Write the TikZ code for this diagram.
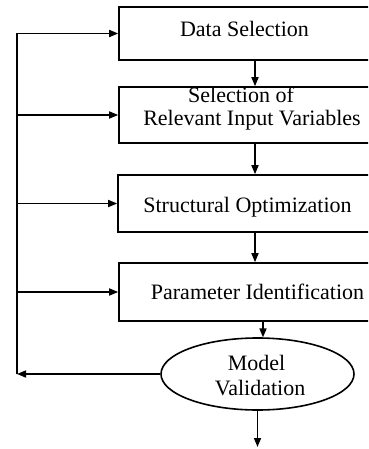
\documentclass[tikz,border=0pt]{standalone}
\usepackage{fontspec}
\setmainfont{Liberation Serif}
\usetikzlibrary{arrows.meta,shapes.geometric}
\begin{document}
\begin{tikzpicture}[x=1pt,y=-1pt,
  line width=1.6pt,
  box/.style={draw,rectangle,minimum width=300pt,inner sep=0pt},
  lbl/.style={anchor=base,inner sep=0pt,font=\fontsize{22}{26}\selectfont},
  arr/.style={-{Triangle[length=9pt,width=7pt]}}]
\useasboundingbox (0,0) rectangle (368,449);
\begin{scope}
\clip (0,0) rectangle (368,449);
\node[box,minimum height=53pt] (b1) at (269,33.5) {};
\node[box,minimum height=56pt] (b2) at (269,115) {};
\node[box,minimum height=57pt] (b3) at (268,203.5) {};
\node[box,minimum height=58pt] (b4) at (269,292) {};
\end{scope}
\node[draw,ellipse,minimum width=193pt,minimum height=72pt,inner sep=0pt] (mv) at (257.5,374) {};
\node[lbl] (t1) at (244.5,37) {Data Selection};
\node[lbl] (t2a) at (241,103) {Selection of};
\node[lbl] (t2b) at (252,126) {Relevant Input Variables};
\node[lbl] (t3) at (247.5,212) {Structural Optimization};
\node[lbl] (t4) at (257.5,299) {Parameter Identification};
\node[lbl] (t5a) at (256.5,370) {Model};
\node[lbl] (t5b) at (260,395) {Validation};
\coordinate (ax) at (255,0);
\coordinate (ax2) at (263,0);
\coordinate (fb) at (17,374);
\coordinate (out) at (257.5,447);
\draw[arr] (b1.south -| ax) -- (b2.north -| ax);
\draw[arr] (b2.south -| ax) -- (b3.north -| ax);
\draw[arr] (b3.south -| ax) -- (b4.north -| ax);
\draw[arr] (b4.south -| ax2) -- ([yshift=-0.2pt]mv.north -| ax2);
\draw[arr] (mv.south) -- (out);
\draw[arr] (mv.west) -- (fb);
\draw (fb) -- (b1.west -| fb);
\draw[arr] (b1.west -| fb) -- (b1.west);
\draw[arr] (b2.west -| fb) -- (b2.west);
\draw[arr] (b3.west -| fb) -- (b3.west);
\draw[arr] (b4.west -| fb) -- (b4.west);
\end{tikzpicture}
\end{document}
